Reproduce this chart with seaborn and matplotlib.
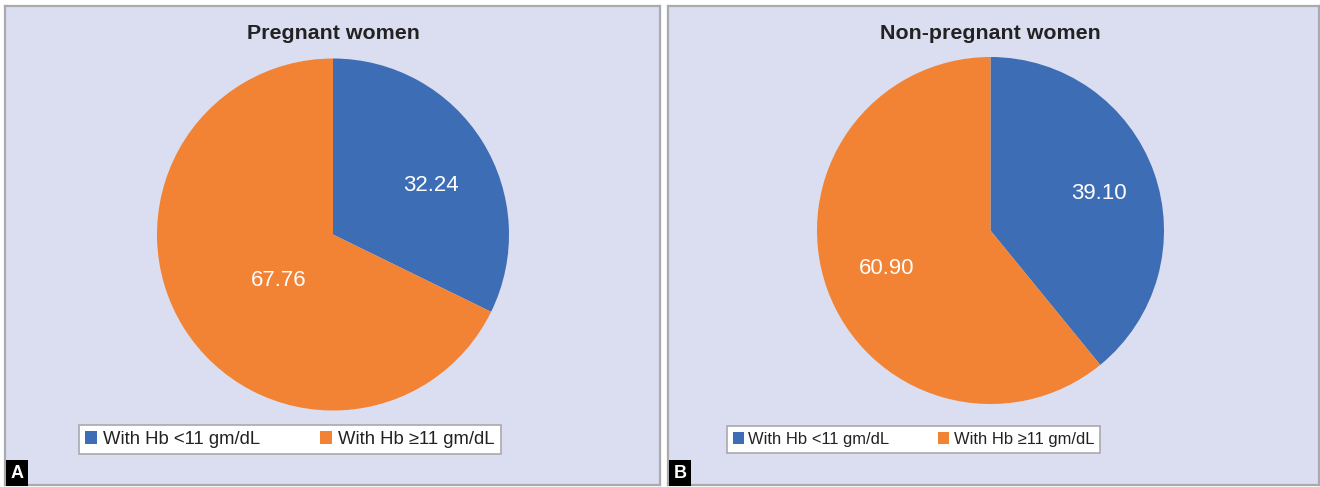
import matplotlib
matplotlib.use("Agg")
import matplotlib.pyplot as plt
import seaborn as sns
from matplotlib.patches import Rectangle
from matplotlib import font_manager

# ---- data ----
categories = ["With Hb <11 gm/dL", "With Hb \u226511 gm/dL"]
panel_titles = ["Pregnant women", "Non-pregnant women"]
panel_letters = ["A", "B"]
pregnant_values = [32.24, 67.76]
nonpregnant_values = [39.10, 60.90]

sns.set_theme(style="white")
plt.rcParams["font.family"] = ["Liberation Sans", "DejaVu Sans"]

names = {f.name for f in font_manager.fontManager.ttflist}
narrow = "Liberation Sans Narrow" if "Liberation Sans Narrow" in names else None

colors = ["#3d6db5", "#f28234"]
bg = "#dbdef0"
edge = "#a9a9ae"

W, H = 1320, 487
fig = plt.figure(figsize=(W / 100, H / 100), dpi=100)
fig.patch.set_facecolor("white")


def fx(x):
    return x / W


def fy(y):
    return 1 - y / H


# layout (pixels): panel box, pie center, radius, legend box, label offsets
layouts = [
    dict(panel=(5, 6, 660, 485), center=(333, 234.5), r=176,
         legend=(79, 422, 501, 457), title_y=33,
         leg_font=dict(family=["Liberation Sans", "DejaVu Sans"], size=13.3),
         label_pos=[(0.557, 0.278), (-0.31, -0.26)]),
    dict(panel=(668, 6, 1319, 485), center=(990.5, 230.5), r=173.5,
         legend=(727, 422, 1100, 457), title_y=33,
         leg_font=(dict(family=[narrow, "DejaVu Sans"], size=14.2) if narrow
                   else dict(family=["Liberation Sans", "DejaVu Sans"], size=11.9)),
         label_pos=[(0.625, 0.215), (-0.60, -0.22)]),
]

all_values = [pregnant_values, nonpregnant_values]

for lay, vals, title, letter in zip(layouts, all_values, panel_titles, panel_letters):
    x0, y0, x1, y1 = lay["panel"]
    pax = fig.add_axes([fx(x0), fy(y1), fx(x1 - x0), (y1 - y0) / H])
    pax.set_facecolor(bg)
    pax.set_xticks([])
    pax.set_yticks([])
    for s in pax.spines.values():
        s.set_visible(True)
        s.set_color(edge)
        s.set_linewidth(1.6)

    cx, cy = lay["center"]
    r = lay["r"]
    ax = fig.add_axes([fx(cx - r), fy(cy + r), fx(2 * r), 2 * r / H])
    wedges, texts, autotexts = ax.pie(
        vals, colors=colors, startangle=90, counterclock=False,
        autopct=lambda p: "", pctdistance=0.65,
        wedgeprops=dict(linewidth=0, edgecolor="none"),
    )
    ax.set_xlim(-1, 1)
    ax.set_ylim(-1, 1)
    ax.set_aspect("equal")
    ax.patch.set_alpha(0)
    for t, v, pos in zip(autotexts, vals, lay["label_pos"]):
        t.set_text(f"{v:.2f}")
        t.set_position(pos)
        t.set_color("white")
        t.set_fontsize(16)
        t.set_ha("center")
        t.set_va("center")

    fig.text(fx(cx), fy(lay["title_y"]), title, ha="center", va="center",
             fontsize=15.4, fontweight="bold", color="#222222")

    lx0, ly0, lx1, ly1 = lay["legend"]
    handles = [Rectangle((0, 0), 1, 1, facecolor=c, edgecolor="none") for c in colors]
    leg = fig.legend(handles, categories, ncol=2, mode="expand",
                     bbox_to_anchor=(fx(lx0), fy(ly1), fx(lx1 - lx0), (ly1 - ly0) / H),
                     loc="center", prop=lay["leg_font"], frameon=True, fancybox=False,
                     handlelength=0.65, handleheight=0.7, handletextpad=0.3,
                     borderpad=0.35, borderaxespad=0, columnspacing=1.0)
    frame = leg.get_frame()
    frame.set_facecolor("white")
    frame.set_edgecolor(edge)
    frame.set_linewidth(1.2)
    frame.set_alpha(1)
    for t in leg.get_texts():
        t.set_color("#222222")

    fig.text(fx(x0 + 12), fy(y1 - 12), letter, ha="center", va="center",
             fontsize=13, fontweight="bold", color="white",
             bbox=dict(facecolor="black", edgecolor="none", boxstyle="square,pad=0.25"))

fig.savefig("out.png", dpi=100, facecolor="white")
